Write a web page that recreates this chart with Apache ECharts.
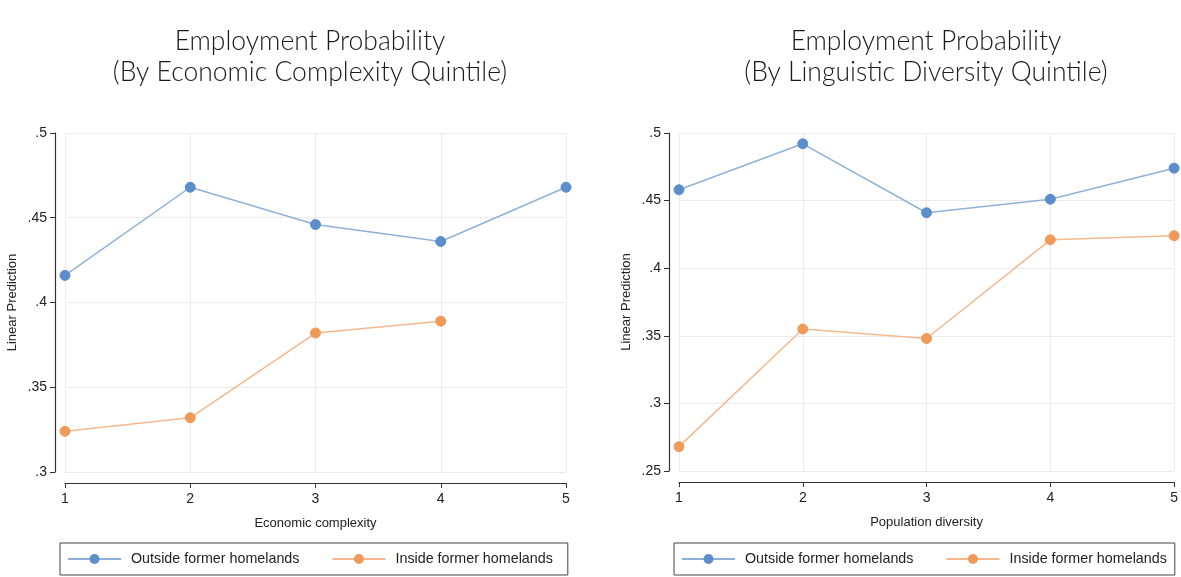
<!DOCTYPE html>
<html>
<head>
<meta charset="utf-8">
<script src="https://cdn.jsdelivr.net/npm/echarts@6/dist/echarts.min.js"></script>
<style>
  html, body { margin:0; padding:0; background:#fff; }
  #chart { width:1181px; height:577px; }
</style>
</head>
<body>
<div id="chart"></div>
<script>
// quintiles on the x axis
const quintiles = [1, 2, 3, 4, 5];

// left panel: economic complexity
const econOutside = [0.416, 0.468, 0.446, 0.436, 0.468];
const econInside  = [0.324, 0.332, 0.382, 0.389, null];

// right panel: linguistic diversity
const lingOutside = [0.458, 0.492, 0.441, 0.451, 0.474];
const lingInside  = [0.268, 0.355, 0.348, 0.421, 0.424];

const NAME_OUT = "Outside former homelands";
const NAME_IN  = "Inside former homelands";

const BLUE_DOT = "#5b8ecb", BLUE_LINE = "#8fb1d9";
const ORANGE_DOT = "#f09a5a", ORANGE_LINE = "#f5b88e";

function pairs(vals){
  return quintiles.map((q,i)=> [q, vals[i]]).filter(p => p[1] != null);
}
function tickFmt(v){
  return String(+v.toFixed(2)).replace(/^0/, "");
}

function xAxisOf(idx, name){
  return {
    type: "value", gridIndex: idx, min: 1, max: 5, interval: 1,
    offset: 11,
    name: name, nameLocation: "middle", nameGap: 34,
    nameTextStyle: { fontFamily: "Liberation Sans", fontSize: 13, color: "#222" },
    axisLine: { show: true, lineStyle: { color: "#333", width: 1.2 } },
    axisTick: { show: true, length: 5, lineStyle: { color: "#333" } },
    axisLabel: { fontFamily: "Liberation Sans", fontSize: 14, color: "#222", margin: 9 },
    splitLine: { show: true, lineStyle: { color: "#ebebeb" } }
  };
}
function yAxisOf(idx, min){
  return {
    type: "value", gridIndex: idx, min: min, max: 0.5, interval: 0.05,
    offset: 10,
    name: "Linear Prediction", nameLocation: "middle", nameGap: 36, nameRotate: 90,
    nameTextStyle: { fontFamily: "Liberation Sans", fontSize: 13, color: "#222" },
    axisLine: { show: true, lineStyle: { color: "#333", width: 1.2 } },
    axisTick: { show: true, length: 5, lineStyle: { color: "#333" } },
    axisLabel: { fontFamily: "Liberation Sans", fontSize: 14, color: "#222", margin: 8, formatter: tickFmt },
    splitLine: { show: true, lineStyle: { color: "#ebebeb" } }
  };
}
function lineSeries(name, idx, vals, dot, line){
  return {
    name: name, type: "line", xAxisIndex: idx, yAxisIndex: idx,
    data: pairs(vals),
    symbol: "circle", symbolSize: 10,
    itemStyle: { color: dot, borderColor: dot, borderWidth: 1 },
    lineStyle: { color: line, width: 1.5 },
    emphasis: { disabled: true }
  };
}
function legendOf(left, padRight){
  return {
    left: left, top: 543, width: 490,
    data: [NAME_OUT, NAME_IN],
    itemWidth: 53, itemHeight: 10, itemGap: 32,
    padding: [9, padRight, 9, 7],
    borderColor: "#444", borderWidth: 1,
    textStyle: { fontFamily: "Liberation Sans", fontSize: 14.3, color: "#222", padding: [0, 0, 0, 5] }
  };
}

const titleStyle = { fontFamily: "Lato", fontWeight: 300, fontSize: 26.5, color: "#1a1a1a", lineHeight: 31 };

const chart = echarts.init(document.getElementById("chart"));
chart.setOption({
  animation: false,
  title: [
    { text: "Employment Probability\n(By Economic Complexity Quintile)", left: 305, top: 21, textAlign: "center", textStyle: titleStyle },
    { text: "Employment Probability\n(By Linguistic Diversity Quintile)", left: 921, top: 21, textAlign: "center", textStyle: titleStyle }
  ],
  legend: [ legendOf(60, 15), legendOf(674, 8) ],
  grid: [
    { left: 65, top: 133, width: 501, height: 339 },
    { left: 679, top: 133, width: 496, height: 338 }
  ],
  xAxis: [ xAxisOf(0, "Economic complexity"), xAxisOf(1, "Population diversity") ],
  yAxis: [ yAxisOf(0, 0.3), yAxisOf(1, 0.25) ],
  series: [
    lineSeries(NAME_OUT, 0, econOutside, BLUE_DOT, BLUE_LINE),
    lineSeries(NAME_IN, 0, econInside, ORANGE_DOT, ORANGE_LINE),
    lineSeries(NAME_OUT, 1, lingOutside, BLUE_DOT, BLUE_LINE),
    lineSeries(NAME_IN, 1, lingInside, ORANGE_DOT, ORANGE_LINE)
  ]
});
</script>
</body>
</html>
